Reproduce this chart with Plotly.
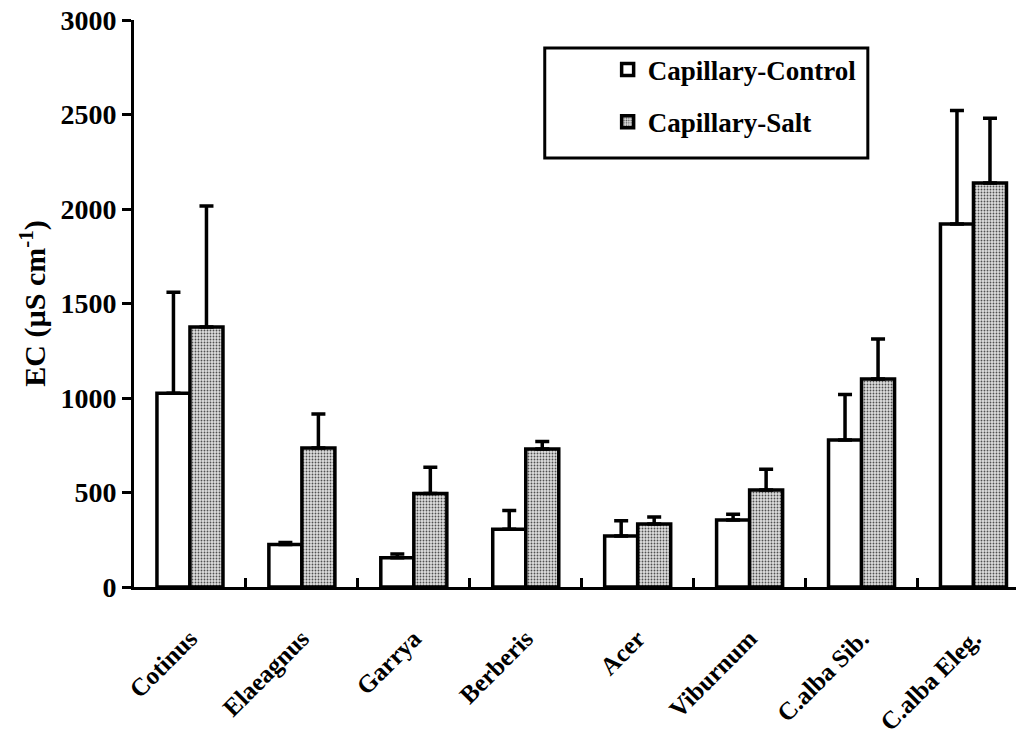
import plotly.graph_objects as go

# Species and mean EC of capillary water (µS cm-1), with upper standard errors
species = ["Cotinus", "Elaeagnus", "Garrya", "Berberis", "Acer",
           "Viburnum", "C.alba Sib.", "C.alba Eleg."]
control_mean = [1025, 225, 155, 305, 270, 355, 778, 1921]
control_err = [535, 10, 20, 100, 80, 30, 240, 600]
salt_mean = [1376, 735, 495, 730, 333, 513, 1100, 2138]
salt_err = [640, 180, 138, 40, 37, 110, 212, 342]
y_ticks = [0, 500, 1000, 1500, 2000, 2500, 3000]

FONT = "Liberation Serif"

fig = go.Figure()

fig.add_trace(go.Bar(
    name="Capillary-Control",
    x=species,
    y=control_mean,
    legendgroup="control",
    marker=dict(color="white", line=dict(color="black", width=3.5)),
    error_y=dict(type="data", symmetric=False, array=control_err,
                 arrayminus=[0] * len(control_err),
                 color="black", thickness=3.5, width=7),
))

fig.add_trace(go.Bar(
    name="Capillary-Salt",
    x=species,
    y=salt_mean,
    legendgroup="salt",
    marker=dict(
        color="#c8c8c8",
        line=dict(color="black", width=3.5),
        pattern=dict(shape=".", fgcolor="#505050", bgcolor="#dedede",
                     size=3, solidity=0.3, fillmode="replace"),
    ),
    error_y=dict(type="data", symmetric=False, array=salt_err,
                 arrayminus=[0] * len(salt_err),
                 color="black", thickness=3.5, width=7),
))

# Frame around the legend
fig.add_shape(type="rect", xref="paper", yref="paper",
              x0=0.4657, x1=0.832, y0=0.7566, y1=0.9506,
              line=dict(color="black", width=3), fillcolor="white", layer="below")

fig.update_layout(
    width=1016, height=742,
    margin=dict(l=134, r=0, t=20, b=155),
    paper_bgcolor="white", plot_bgcolor="white",
    barmode="group", bargap=0.41, bargroupgap=0,
    font=dict(family=FONT, size=24, color="black", weight="bold"),
    showlegend=True,
    legend=dict(
        x=0.537, y=0.955, xanchor="left", yanchor="top",
        bgcolor="rgba(0,0,0,0)", borderwidth=0,
        font=dict(family=FONT, size=27, color="black", weight="bold"),
        tracegroupgap=14,
    ),
)

fig.update_xaxes(
    range=[-0.5, 7.38],
    showline=True, linecolor="black", linewidth=3,
    ticks="inside", tickson="boundaries", ticklen=9, tickwidth=3, tickcolor="black",
    tickangle=-45, ticklabelstandoff=24,
    tickfont=dict(family=FONT, size=25, color="black", weight="bold"),
    showgrid=False, zeroline=False,
)

fig.update_yaxes(
    range=[0, 3000], tickvals=y_ticks,
    showline=True, linecolor="black", linewidth=3,
    ticks="outside", ticklen=9, tickwidth=3, tickcolor="black",
    tickfont=dict(family=FONT, size=28, color="black", weight="bold"),
    showgrid=False, zeroline=False,
    title=dict(text="EC (µS cm<sup>-1</sup>)", standoff=6,
               font=dict(family=FONT, size=30, color="black", weight="bold")),
)

fig.write_html("out.html")
